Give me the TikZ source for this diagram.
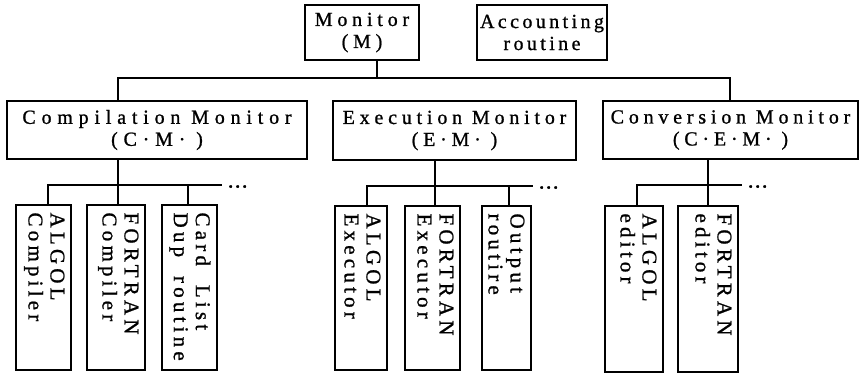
\documentclass[tikz,border=0pt]{standalone}
\usepackage{fontspec}
\setmainfont{Liberation Serif}
\usetikzlibrary{calc}
\newcommand\hfA{\fontsize{20}{22}\selectfont\addfontfeature{LetterSpace=24,FakeBold=1}}
\newcommand\hfB{\fontsize{20}{22}\selectfont\addfontfeature{LetterSpace=17,FakeBold=1}}
\newcommand\hfC{\fontsize{20}{22}\selectfont\addfontfeature{LetterSpace=29,FakeBold=1}}
\newcommand\vfA{\fontsize{21}{22}\selectfont\addfontfeature{LetterSpace=20,FakeBold=1}}
\tikzset{
  ln/.style={line width=1.3pt},
  hbox/.style={draw, line width=1.3pt, inner sep=0pt, align=center, font=\hfA},
  cbox/.style={draw, line width=1.3pt, inner sep=0pt},
  vlab/.style={rotate=-90, inner sep=0pt, align=left, font=\vfA, anchor=north west},
  dts/.style={anchor=base west, inner sep=0pt, xshift=5pt, yshift=-8.5pt,
    font=\fontsize{21}{21}\selectfont\addfontfeature{FakeBold=2}}
}
\begin{document}
\begin{tikzpicture}[x=1pt,y=-1pt]
\useasboundingbox (0,0) rectangle (863,375);
% top level
\node[hbox, minimum width=114pt, minimum height=55pt] (M) at (362,32.5) {Monitor\\(M)};
\node[hbox, font=\hfB, minimum width=130pt, minimum height=55pt] (A) at (542,32.5) {Accounting\\routine};
% second level
\node[hbox, font=\hfC, minimum width=300pt, minimum height=58pt] (CM) at (157,130) {Compilation Monitor\\(C\textperiodcentered M\textperiodcentered\ )};
\node[hbox, minimum width=243pt, minimum height=59pt] (EM) at (454.5,130.5) {Execution Monitor\\(E\textperiodcentered M\textperiodcentered\ )};
\node[hbox, minimum width=255pt, minimum height=58pt] (CEM) at (730.5,130) {Conversion Monitor\\(C\textperiodcentered E\textperiodcentered M\textperiodcentered\ )};
% top bar
\coordinate (t0) at (377,78);
\coordinate (tl) at (118,78);
\coordinate (tr) at (730,78);
\draw[ln] (M.south -| t0) -- (t0);
\draw[ln] (CM.north -| tl) -- (tl) -- (tr) -- (CEM.north -| tr);
% children boxes
\node[cbox, minimum width=55pt, minimum height=165pt] (c1) at (43.5,287.5) {};
\node[cbox, minimum width=58pt, minimum height=165pt] (c2) at (116,287.5) {};
\node[cbox, minimum width=55pt, minimum height=165pt] (c3) at (189.5,287.5) {};
\node[cbox, minimum width=52pt, minimum height=164pt] (e1) at (361,288) {};
\node[cbox, minimum width=55pt, minimum height=164pt] (e2) at (432.5,288) {};
\node[cbox, minimum width=49pt, minimum height=164pt] (e3) at (506.5,288) {};
\node[cbox, minimum width=58pt, minimum height=166pt] (v1) at (634,289) {};
\node[cbox, minimum width=60pt, minimum height=166pt] (v2) at (708,289) {};
% labels
\node[vlab] (c1t) at ($(c1.north east)+(-7,8)$) {ALGOL\\Compiler};
\node[vlab] (c2t) at ($(c2.north east)+(-7,8)$) {FORTRAN\\Compiler};
\node[vlab] (c3t) at ($(c3.north east)+(-7,8)$) {Card\ \ List\\Dup\ \ routine};
\node[vlab] (e1t) at ($(e1.north east)+(-7,8)$) {ALGOL\\Executor};
\node[vlab] (e2t) at ($(e2.north east)+(-7,8)$) {FORTRAN\\Executor};
\node[vlab] (e3t) at ($(e3.north east)+(-7,8)$) {Output\\routire};
\node[vlab] (v1t) at ($(v1.north east)+(-7,8)$) {ALGOL\\editor};
\node[vlab] (v2t) at ($(v2.north east)+(-7,8)$) {FORTRAN\\editor};
% Compilation sub-tree
\coordinate (a0) at (118,185);
\coordinate (al) at (48,185);
\coordinate (ab) at (188,185);
\coordinate (ar) at (222,185);
\draw[ln] (CM.south -| a0) -- (a0);
\draw[ln] (c1.north -| al) -- (al) -- (ar);
\draw[ln] (a0) -- (c2.north -| a0);
\draw[ln] (ab) -- (c3.north -| ab);
\node[dts] (ad) at (ar) {\textperiodcentered\textperiodcentered\textperiodcentered};
% Execution sub-tree
\coordinate (b0) at (435,186);
\coordinate (bl) at (367,186);
\coordinate (bb) at (509,186);
\coordinate (br) at (533,186);
\draw[ln] (EM.south -| b0) -- (b0);
\draw[ln] (e1.north -| bl) -- (bl) -- (br);
\draw[ln] (b0) -- (e2.north -| b0);
\draw[ln] (bb) -- (e3.north -| bb);
\node[dts] (bd) at (br) {\textperiodcentered\textperiodcentered\textperiodcentered};
% Conversion sub-tree
\coordinate (d0) at (708,185);
\coordinate (dl) at (637,185);
\coordinate (dr) at (742,185);
\draw[ln] (CEM.south -| d0) -- (d0);
\draw[ln] (v1.north -| dl) -- (dl) -- (dr);
\draw[ln] (d0) -- (v2.north -| d0);
\node[dts] (dd) at (dr) {\textperiodcentered\textperiodcentered\textperiodcentered};
\end{tikzpicture}
\end{document}
